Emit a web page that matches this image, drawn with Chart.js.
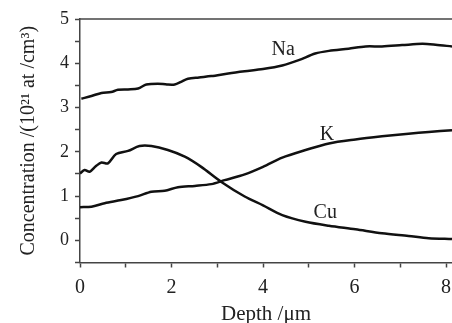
<!DOCTYPE html>
<html>
<head>
<meta charset="utf-8">
<script src="https://cdn.jsdelivr.net/npm/chart.js@4"></script>
<style>
  html, body { margin: 0; padding: 0; background: #fff; }
  #wrap { width: 452px; height: 323px; }
</style>
</head>
<body>
<div id="wrap"><canvas id="depth-profile"></canvas></div>
<script>
// depth profile
var naDepth = [0.03,0.25,0.47,0.68,0.83,1.05,1.27,1.45,1.70,1.90,2.07,2.21,2.36,2.60,2.87,3.24,3.60,4.00,4.42,4.78,5.14,5.44,5.87,6.24,6.60,7.04,7.48,7.77,8.13];
var naConc  = [3.20,3.26,3.33,3.35,3.40,3.41,3.43,3.52,3.54,3.52,3.52,3.58,3.65,3.68,3.71,3.77,3.82,3.87,3.95,4.07,4.22,4.28,4.33,4.38,4.38,4.41,4.44,4.42,4.38];

var kDepth = [0.00,0.25,0.54,0.90,1.27,1.56,1.85,2.14,2.51,2.87,3.16,3.60,4.00,4.42,4.93,5.44,6.02,6.60,7.18,7.62,8.13];
var kConc  = [0.75,0.76,0.84,0.91,1.00,1.10,1.12,1.20,1.23,1.27,1.36,1.49,1.66,1.87,2.04,2.19,2.28,2.35,2.41,2.45,2.49];

var cuDepth = [0.00,0.10,0.21,0.35,0.47,0.61,0.79,1.05,1.30,1.56,1.92,2.29,2.65,3.09,3.60,4.00,4.42,4.93,5.44,6.02,6.60,7.18,7.62,8.13];
var cuConc  = [1.51,1.59,1.55,1.68,1.76,1.74,1.95,2.02,2.13,2.13,2.04,1.89,1.66,1.32,0.99,0.79,0.57,0.42,0.33,0.25,0.16,0.10,0.05,0.03];

var xTicks = [0,1,2,3,4,5,6,7,8];
var yTicks = [-0.5,0,0.5,1,1.5,2,2.5,3,3.5,4,4.5,5];

// curve names written next to the curves (data coords)
var tagNames = ['Na','K','Cu'];
var tagX = [4.44, 5.40, 5.36];
var tagY = [4.31, 2.38, 0.62];

function toPoints(xs, ys) {
  var pts = [];
  for (var i = 0; i < xs.length; i++) pts.push({x: xs[i], y: ys[i]});
  return pts;
}

function makeSeries(label, xs, ys) {
  return {
    label: label,
    data: toPoints(xs, ys),
    showLine: true,
    borderColor: '#111',
    borderWidth: 2.5,
    pointRadius: 0,
    tension: 0.3,
    fill: false
  };
}

var serif = '"Liberation Serif", "Times New Roman", serif';

var curveTags = {
  id: 'curveTags',
  afterDatasetsDraw: function(chart) {
    var ctx = chart.ctx, xs = chart.scales.x, ys = chart.scales.y;
    ctx.save();
    ctx.fillStyle = '#222';
    ctx.font = '20px ' + serif;
    ctx.textAlign = 'center';
    ctx.textBaseline = 'middle';
    for (var i = 0; i < tagNames.length; i++) {
      ctx.fillText(tagNames[i], xs.getPixelForValue(tagX[i]), ys.getPixelForValue(tagY[i]));
    }
    // top frame line
    var a = chart.chartArea;
    ctx.strokeStyle = '#444';
    ctx.lineWidth = 1.5;
    ctx.beginPath();
    ctx.moveTo(a.left, a.top);
    ctx.lineTo(a.right, a.top);
    ctx.stroke();
    ctx.restore();
  }
};

new Chart(document.getElementById('depth-profile'), {
  type: 'scatter',
  data: {
    datasets: [
      makeSeries('Na', naDepth, naConc),
      makeSeries('K', kDepth, kConc),
      makeSeries('Cu', cuDepth, cuConc)
    ]
  },
  plugins: [curveTags],
  options: {
    responsive: true,
    maintainAspectRatio: false,
    animation: false,
    layout: { padding: { top: 19, right: 0, left: 0, bottom: 0 } },
    plugins: { legend: { display: false }, tooltip: { enabled: false } },
    scales: {
      x: {
        type: 'linear',
        min: 0,
        max: 8.13,
        afterBuildTicks: function(s) { s.ticks = xTicks.map(function(v) { return {value: v}; }); },
        afterFit: function(s) { s.height = 60.5; s.paddingRight = 0; s.paddingLeft = 0; },
        grid: { display: true, drawOnChartArea: false, drawTicks: true, tickLength: 5, tickColor: '#444', tickWidth: 1.5 },
        border: { display: true, color: '#444', width: 1.5 },
        ticks: {
          color: '#222',
          font: { family: serif, size: 20 },
          padding: 8,
          maxRotation: 0,
          autoSkip: false,
          callback: function(v) { return v % 2 === 0 ? String(v) : ''; }
        },
        title: {
          display: true,
          text: 'Depth /\u03bcm',
          color: '#222',
          font: { family: serif, size: 21 },
          padding: { top: 0, bottom: -4 }
        }
      },
      y: {
        min: -0.5,
        max: 5,
        afterBuildTicks: function(s) { s.ticks = yTicks.map(function(v) { return {value: v}; }); },
        afterFit: function(s) { s.width = 80; },
        grid: { display: true, drawOnChartArea: false, drawTicks: true, tickLength: 5, tickColor: '#444', tickWidth: 1.5 },
        border: { display: true, color: '#444', width: 1.5 },
        ticks: {
          color: '#222',
          font: { family: serif, size: 18 },
          padding: 6,
          autoSkip: false,
          callback: function(v) { return Number.isInteger(v) ? String(v) : ''; }
        },
        title: {
          display: true,
          text: 'Concentration /(10\u00b2\u00b9 at /cm\u00b3)',
          color: '#222',
          font: { family: serif, size: 20 },
          padding: { top: 17, bottom: 0 }
        }
      }
    }
  }
});
</script>
</body>
</html>
